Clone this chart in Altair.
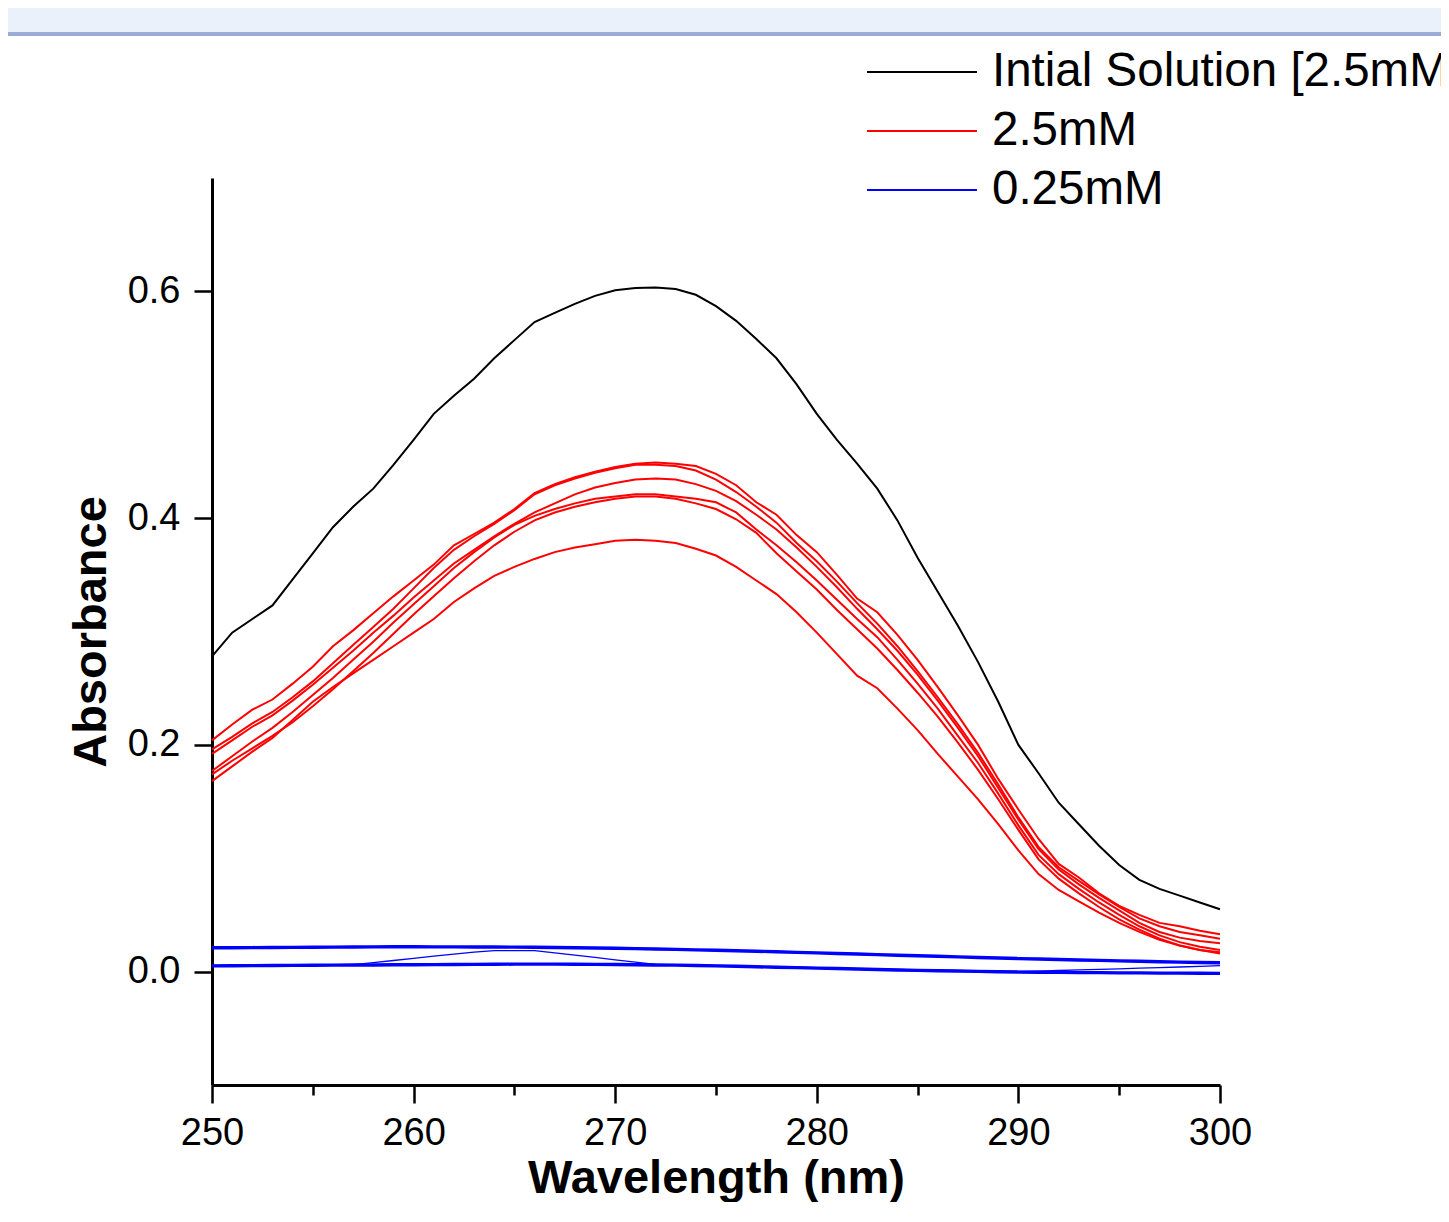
import altair as alt
import pandas as pd

wavelength = list(range(250, 301))

groups = ["Intial Solution [2.5mM]", "2.5mM", "0.25mM"]
group_colors = ["#000000", "#FF0000", "#0000FF"]

initial = [0.278, 0.299, 0.311, 0.323, 0.346, 0.369, 0.392, 0.410, 0.426, 0.447,
           0.469, 0.492, 0.508, 0.523, 0.541, 0.557, 0.573, 0.581, 0.589, 0.596,
           0.601, 0.603, 0.6035, 0.602, 0.597, 0.587, 0.574, 0.558, 0.541, 0.518,
           0.492, 0.469, 0.448, 0.426, 0.398, 0.365, 0.335, 0.305, 0.273, 0.238,
           0.200, 0.175, 0.149, 0.130, 0.111, 0.094, 0.081, 0.073, 0.067, 0.061,
           0.055]

red_1 = [0.204, 0.218, 0.231, 0.240, 0.254, 0.269, 0.287, 0.301, 0.316, 0.331,
         0.345, 0.359, 0.376, 0.386, 0.396, 0.408, 0.422, 0.430, 0.436, 0.441,
         0.445, 0.448, 0.449, 0.448, 0.446, 0.439, 0.429, 0.414, 0.403, 0.385,
         0.370, 0.350, 0.329, 0.317, 0.297, 0.275, 0.251, 0.226, 0.200, 0.170,
         0.143, 0.117, 0.095, 0.083, 0.069, 0.058, 0.050, 0.043, 0.040, 0.036,
         0.033]
red_2 = [0.196, 0.207, 0.219, 0.229, 0.242, 0.256, 0.272, 0.288, 0.304, 0.320,
         0.338, 0.356, 0.372, 0.384, 0.395, 0.407, 0.421, 0.429, 0.435, 0.440,
         0.444, 0.447, 0.447, 0.446, 0.442, 0.434, 0.423, 0.410, 0.396, 0.378,
         0.362, 0.344, 0.325, 0.307, 0.287, 0.265, 0.242, 0.218, 0.193, 0.165,
         0.136, 0.110, 0.092, 0.080, 0.068, 0.057, 0.047, 0.040, 0.035, 0.032,
         0.029]
red_3 = [0.192, 0.204, 0.216, 0.226, 0.239, 0.253, 0.268, 0.283, 0.299, 0.314,
         0.330, 0.345, 0.360, 0.372, 0.384, 0.395, 0.405, 0.413, 0.421, 0.427,
         0.431, 0.434, 0.435, 0.434, 0.430, 0.424, 0.415, 0.403, 0.390, 0.374,
         0.357, 0.339, 0.320, 0.302, 0.283, 0.262, 0.239, 0.215, 0.190, 0.162,
         0.134, 0.108, 0.090, 0.077, 0.065, 0.054, 0.043, 0.035, 0.030, 0.027,
         0.025]
red_4 = [0.177, 0.190, 0.203, 0.215, 0.229, 0.244, 0.259, 0.275, 0.291, 0.308,
         0.324, 0.340, 0.356, 0.370, 0.383, 0.394, 0.402, 0.408, 0.413, 0.417,
         0.419, 0.421, 0.421, 0.419, 0.417, 0.414, 0.405, 0.390, 0.376, 0.361,
         0.345, 0.328, 0.311, 0.295, 0.275, 0.254, 0.232, 0.208, 0.184, 0.157,
         0.129, 0.103, 0.086, 0.073, 0.061, 0.050, 0.040, 0.032, 0.026, 0.022,
         0.019]
red_5 = [0.174, 0.186, 0.197, 0.208, 0.220, 0.234, 0.249, 0.265, 0.281, 0.298,
         0.315, 0.331, 0.347, 0.362, 0.376, 0.388, 0.398, 0.405, 0.410, 0.414,
         0.417, 0.419, 0.419, 0.417, 0.413, 0.408, 0.399, 0.387, 0.369, 0.353,
         0.337, 0.319, 0.302, 0.285, 0.266, 0.246, 0.225, 0.202, 0.178, 0.152,
         0.125, 0.099, 0.082, 0.069, 0.057, 0.046, 0.037, 0.029, 0.023, 0.019,
         0.017]
red_6 = [0.168, 0.181, 0.194, 0.206, 0.222, 0.238, 0.251, 0.263, 0.275, 0.287,
         0.299, 0.311, 0.326, 0.338, 0.349, 0.357, 0.364, 0.370, 0.374, 0.377,
         0.380, 0.381, 0.380, 0.378, 0.373, 0.367, 0.357, 0.345, 0.333, 0.317,
         0.299, 0.280, 0.261, 0.250, 0.232, 0.213, 0.192, 0.172, 0.152, 0.130,
         0.107, 0.086, 0.072, 0.062, 0.052, 0.043, 0.035, 0.028, 0.023, 0.019,
         0.016]

blue_1 = [0.0215, 0.0215, 0.0216, 0.0217, 0.0218, 0.0219, 0.0220, 0.0221, 0.0222, 0.0223,
          0.0223, 0.0222, 0.0222, 0.0221, 0.0221, 0.0220, 0.0219, 0.0217, 0.0215, 0.0213,
          0.0210, 0.0207, 0.0204, 0.0200, 0.0196, 0.0192, 0.0188, 0.0184, 0.0179, 0.0174,
          0.0169, 0.0164, 0.0159, 0.0154, 0.0149, 0.0144, 0.0139, 0.0134, 0.0129, 0.0124,
          0.0119, 0.0115, 0.0111, 0.0107, 0.0103, 0.0099, 0.0095, 0.0091, 0.0088, 0.0085,
          0.0082]
blue_2 = [0.0206, 0.0207, 0.0208, 0.0209, 0.0210, 0.0211, 0.0212, 0.0213, 0.0214, 0.0215,
          0.0215, 0.0214, 0.0214, 0.0213, 0.0213, 0.0212, 0.0211, 0.0209, 0.0207, 0.0205,
          0.0202, 0.0199, 0.0196, 0.0192, 0.0188, 0.0184, 0.0180, 0.0176, 0.0171, 0.0166,
          0.0161, 0.0156, 0.0151, 0.0146, 0.0141, 0.0136, 0.0131, 0.0126, 0.0121, 0.0116,
          0.0111, 0.0107, 0.0103, 0.0099, 0.0095, 0.0091, 0.0087, 0.0083, 0.0080, 0.0077,
          0.0074]
blue_3 = [0.0055, 0.0056, 0.0057, 0.0058, 0.0059, 0.0060, 0.0061, 0.0062, 0.0063, 0.0064,
          0.0065, 0.0066, 0.0067, 0.0068, 0.0069, 0.0070, 0.0070, 0.0070, 0.0069, 0.0068,
          0.0067, 0.0065, 0.0063, 0.0061, 0.0058, 0.0055, 0.0051, 0.0047, 0.0043, 0.0039,
          0.0035, 0.0031, 0.0027, 0.0023, 0.0019, 0.0015, 0.0012, 0.0009, 0.0006, 0.0003,
          0.0000, -0.0002, -0.0004, -0.0005, -0.0006, -0.0007, -0.0008, -0.0009, -0.0010, -0.0011,
          -0.0012]
blue_4 = [0.0047, 0.0048, 0.0049, 0.0050, 0.0051, 0.0052, 0.0053, 0.0054, 0.0055, 0.0056,
          0.0057, 0.0058, 0.0059, 0.0060, 0.0061, 0.0062, 0.0062, 0.0062, 0.0061, 0.0060,
          0.0059, 0.0057, 0.0055, 0.0053, 0.0050, 0.0047, 0.0043, 0.0039, 0.0035, 0.0031,
          0.0027, 0.0023, 0.0019, 0.0015, 0.0011, 0.0007, 0.0004, 0.0001, -0.0002, -0.0005,
          -0.0007, -0.0009, -0.0011, -0.0012, -0.0013, -0.0014, -0.0015, -0.0016, -0.0017, -0.0018,
          -0.0019]
blue_5 = [0.0055, 0.0056, 0.0057, 0.0058, 0.0059, 0.0060, 0.0061, 0.0062, 0.0079, 0.0098,
          0.0117, 0.0136, 0.0155, 0.0172, 0.0185, 0.0186, 0.0185, 0.0165, 0.0145, 0.0125,
          0.0104, 0.0083, 0.0063, 0.0060, 0.0058, 0.0055, 0.0051, 0.0047, 0.0043, 0.0039,
          0.0035, 0.0031, 0.0027, 0.0023, 0.0019, 0.0015, 0.0012, 0.0009, 0.0006, 0.0003,
          0.0001, 0.0005, 0.0010, 0.0015, 0.0020, 0.0025, 0.0030, 0.0035, 0.0041, 0.0047,
          0.0053]

series_list = [
    ("init", groups[0], initial),
    ("r1", groups[1], red_1), ("r2", groups[1], red_2), ("r3", groups[1], red_3),
    ("r4", groups[1], red_4), ("r5", groups[1], red_5), ("r6", groups[1], red_6),
    ("b1", groups[2], blue_1), ("b2", groups[2], blue_2), ("b3", groups[2], blue_3),
    ("b4", groups[2], blue_4), ("b5", groups[2], blue_5),
]

rows = []
for sid, grp, vals in series_list:
    for wl, v in zip(wavelength, vals):
        rows.append({"wavelength": wl, "absorbance": v, "series": sid, "group": grp})
df = pd.DataFrame(rows)

FONT = "Liberation Sans"

x_enc = alt.X(
    "wavelength:Q",
    scale=alt.Scale(domain=[250, 300], nice=False, zero=False),
    axis=alt.Axis(
        values=list(range(250, 301, 5)),
        labelExpr="datum.value % 10 === 0 ? datum.label : ''",
        tickSize={"condition": {"test": "datum.value % 10 === 0", "value": 18}, "value": 10},
        format="d",
        title="Wavelength (nm)",
        labelFontSize=38,
        labelPadding=11,
        labelFlush=False,
        titleFontSize=47,
        titleFontWeight="bold",
        titlePadding=3,
        grid=False,
    ),
)
y_enc = alt.Y(
    "absorbance:Q",
    scale=alt.Scale(domain=[-0.1, 0.7], nice=False, zero=False),
    axis=alt.Axis(
        values=[0.0, 0.2, 0.4, 0.6],
        format=".1f",
        tickSize=18,
        title="Absorbance",
        labelFontSize=38,
        labelPadding=14,
        labelFlush=False,
        titleFontSize=47,
        titleFontWeight="bold",
        titlePadding=12,
        grid=False,
    ),
)
color_enc = alt.Color(
    "group:N",
    scale=alt.Scale(domain=groups, range=group_colors),
    legend=alt.Legend(
        title=None,
        orient="none",
        legendX=685,
        legendY=-131,
        symbolType="M-2.316,0L2.316,0",
        symbolSize=2256,
        symbolStrokeWidth=2,
        labelFontSize=47.5,
        labelOffset=45,
        labelLimit=2000,
        rowPadding=10,
        padding=0,
    ),
)

base = alt.Chart(df)
main_lines = base.transform_filter("datum.group != '0.25mM'").mark_line(strokeWidth=2).encode(
    x=x_enc, y=y_enc, color=color_enc, detail="series:N"
)
blue_lines = base.transform_filter(
    "datum.group == '0.25mM' && datum.series != 'b5'"
).mark_line(strokeWidth=2.5).encode(
    x=x_enc, y=y_enc, color=color_enc, detail="series:N"
)
thin_line = base.transform_filter("datum.series == 'b5'").mark_line(strokeWidth=1.3).encode(
    x=x_enc, y=y_enc, color=color_enc, detail="series:N"
)

band = alt.Chart(alt.Data(values=[{}])).mark_rect(color="#EAF1FA").encode(
    x=alt.value(-204), x2=alt.value(1229), y=alt.value(-170), y2=alt.value(-146)
)
band_edge = alt.Chart(alt.Data(values=[{}])).mark_rect(color="#9AABD6").encode(
    x=alt.value(-204), x2=alt.value(1229), y=alt.value(-146), y2=alt.value(-142)
)

chart = alt.layer(band, band_edge, main_lines, blue_lines, thin_line).properties(
    width=1008,
    height=907,
    padding={"left": 204, "top": 170, "right": 221, "bottom": 117},
    autosize=alt.AutoSizeParams(type="none"),
).configure_view(stroke=None).configure_axis(
    labelFont=FONT,
    titleFont=FONT,
    labelColor="black",
    titleColor="black",
    domainColor="black",
    tickColor="black",
    domainWidth=3,
    tickWidth=2.5,
).configure_legend(labelFont=FONT, labelColor="black")

chart.save("out.html", embed_options={"renderer": "svg", "actions": False})
